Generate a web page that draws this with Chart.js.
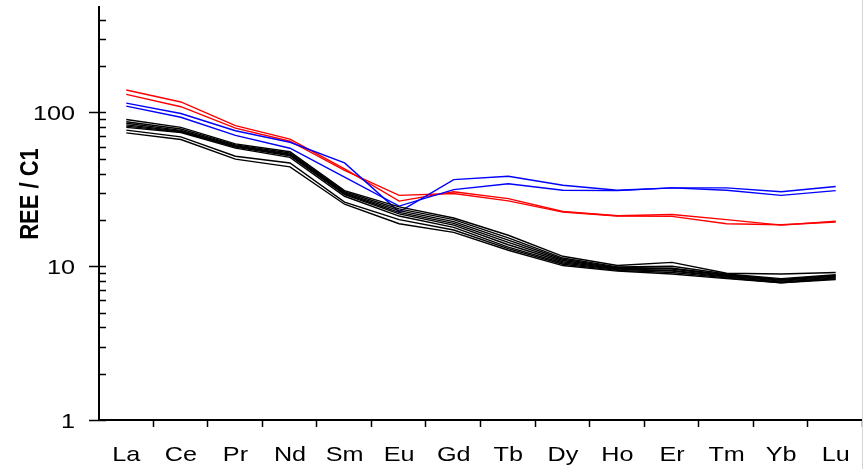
<!DOCTYPE html>
<html>
<head>
<meta charset="utf-8">
<script src="https://cdn.jsdelivr.net/npm/chart.js@4/dist/chart.umd.min.js"></script>
<style>
  html, body { margin: 0; padding: 0; background: #fff; }
  #ree { display: block; }
</style>
</head>
<body>
<canvas id="ree" width="863" height="469"></canvas>
<script>
// chondrite-normalised REE patterns
const elements = ['La', 'Ce', 'Pr', 'Nd', 'Sm', 'Eu', 'Gd', 'Tb', 'Dy', 'Ho', 'Er', 'Tm', 'Yb', 'Lu'];
const yTickLabels = [1, 10, 100];

const redA = [140, 117, 82, 67, 43, 26.5, 30.5, 27.5, 22.7, 21.3, 21.7, 20.1, 18.5, 19.6];
const redB = [131, 109, 79, 65, 42, 28.9, 29.7, 26.6, 22.5, 21.2, 21.1, 18.9, 18.6, 19.4];

const blueA = [115, 98.5, 76, 64, 47, 22.6, 36.6, 38.5, 33.6, 31.2, 32.3, 32.3, 30.5, 33];
const blueB = [110, 93, 71, 58.5, 38, 24.6, 31.5, 34.4, 31.2, 31, 32.3, 31.2, 28.9, 31];

const black1 = [90, 80, 62.5, 55.5, 31, 24.3, 20.6, 15.9, 11.6, 10.1, 10.6, 9.0, 8.9, 9.1];
const black2 = [87, 78, 61.5, 54.5, 30.5, 23.6, 20.1, 15.3, 11.3, 9.9, 10.0, 8.9, 8.3, 8.8];
const black3 = [85, 76.5, 60.8, 53.5, 30, 23, 19.5, 14.8, 11.1, 9.8, 9.7, 8.8, 8.2, 8.7];
const black4 = [83, 75.5, 60.2, 53, 29.6, 22.4, 19.0, 14.3, 10.9, 9.7, 9.6, 8.7, 8.1, 8.6];
const black5 = [81.5, 74.8, 59.5, 52.3, 29.2, 21.9, 18.5, 13.8, 10.7, 9.6, 9.4, 8.6, 8.0, 8.5];
const black6 = [80, 74, 58.6, 51, 28.5, 21.2, 17.9, 13.3, 10.5, 9.5, 9.3, 8.5, 7.9, 8.4];
const black7 = [76.7, 69.4, 51.9, 46.9, 26.1, 20.1, 17.2, 13.0, 10.3, 9.4, 9.1, 8.4, 7.8, 8.3];
const black8 = [73.6, 66.7, 49.7, 44.3, 25.3, 18.9, 16.6, 12.7, 10.1, 9.3, 8.9, 8.3, 7.8, 8.2];

const FONT = 'Arial, "Liberation Sans", sans-serif';
const STRETCH = 1.2; // labels are drawn a little wide

function line(data, color) {
  return {
    data: data,
    borderColor: color,
    borderWidth: 1.4,
    pointRadius: 0,
    tension: 0,
    fill: false
  };
}

const datasets = [
  line(black1, '#000'), line(black2, '#000'), line(black3, '#000'), line(black4, '#000'),
  line(black5, '#000'), line(black6, '#000'), line(black7, '#000'), line(black8, '#000'),
  line(blueA, '#0000ff'), line(blueB, '#0000ff'),
  line(redA, '#ff0000'), line(redB, '#ff0000')
];

function wideText(ctx, text, x, y, align) {
  ctx.save();
  ctx.translate(x, y);
  ctx.scale(STRETCH, 1);
  ctx.textAlign = align;
  ctx.fillText(text, 0, 0);
  ctx.restore();
}

// tick marks and labels: y major ticks cross the axis, minor ones point
// inwards, x ticks sit on the category boundaries
const axisDecor = {
  id: 'axisDecor',
  afterDraw(chart) {
    const ctx = chart.ctx;
    const x = chart.scales.x;
    const y = chart.scales.y;
    ctx.save();
    ctx.strokeStyle = '#000';
    ctx.lineWidth = 1.5;
    ctx.beginPath();
    y.ticks.forEach(t => {
      const v = t.value;
      const m = v / Math.pow(10, Math.floor(Math.log10(v) + 1e-9));
      if (Math.abs(m - Math.round(m)) > 1e-6 || v > 400) return;
      const py = Math.round(y.getPixelForValue(v)) + 0.5;
      ctx.moveTo(yTickLabels.includes(v) ? y.right - 10 : y.right, py);
      ctx.lineTo(y.right + 7, py);
    });
    const w = (x.right - x.left) / elements.length;
    for (let k = 1; k <= elements.length; k++) {
      const px = Math.round(x.left + k * w) - 0.5;
      ctx.moveTo(px, x.top);
      ctx.lineTo(px, x.top + 7);
    }
    ctx.stroke();

    ctx.fillStyle = '#000';
    ctx.font = '21px ' + FONT;
    ctx.textBaseline = 'alphabetic';
    yTickLabels.forEach(v => {
      wideText(ctx, String(v), y.right - 24, y.getPixelForValue(v) + 7.5, 'right');
    });
    elements.forEach((el, i) => {
      wideText(ctx, el, x.getPixelForValue(i), 461, 'center');
    });

    // axis title
    ctx.font = 'bold 22px ' + FONT;
    ctx.textAlign = 'center';
    ctx.textBaseline = 'middle';
    ctx.translate(31, 194);
    ctx.scale(STRETCH, 1);
    ctx.rotate(-Math.PI / 2);
    ctx.fillText('REE / C1', 0, 0);
    ctx.restore();

    // frame edge on the right
    ctx.save();
    ctx.strokeStyle = '#d4d4d4';
    ctx.lineWidth = 1;
    ctx.beginPath();
    ctx.moveTo(862.5, 0);
    ctx.lineTo(862.5, chart.height);
    ctx.stroke();
    ctx.restore();
  }
};

new Chart(document.getElementById('ree'), {
  type: 'line',
  data: { labels: elements, datasets: datasets },
  options: {
    responsive: false,
    devicePixelRatio: 1,
    animation: false,
    layout: { padding: { top: 7, left: 0, right: 0, bottom: 0 } },
    plugins: { legend: { display: false }, tooltip: { enabled: false } },
    scales: {
      x: {
        type: 'category',
        offset: true,
        grid: { display: false },
        border: { display: true, color: '#000', width: 2 },
        ticks: { display: false, autoSkip: false },
        afterFit(scale) { scale.height = 49; }
      },
      y: {
        type: 'logarithmic',
        min: 1,
        max: 485,
        grid: { display: false },
        border: { display: true, color: '#000', width: 2 },
        ticks: { display: false, autoSkip: false },
        afterFit(scale) { scale.width = 99; }
      }
    }
  },
  plugins: [axisDecor]
});
</script>
</body>
</html>
